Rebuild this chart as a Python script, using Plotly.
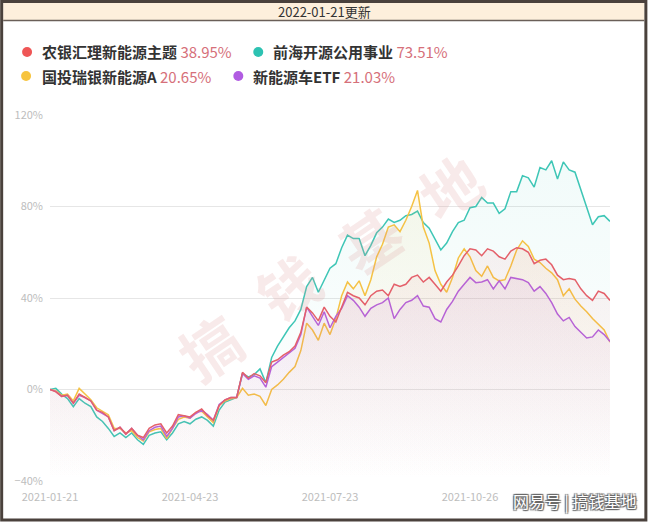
import plotly.graph_objects as go

# ---------------- data ----------------
tick_labels = ["2021-01-21", "2021-04-23", "2021-07-23", "2021-10-26", "2022-01-21"]

names = ["农银汇理新能源主题", "前海开源公用事业", "国投瑞银新能源A", "新能源车ETF"]
finals = ["38.95%", "73.51%", "20.65%", "21.03%"]

red = [0, -1, -3, -2.5, -6, -2, -3.5, -5, -9, -10, -12, -18, -16.5, -19.5, -17, -20, -21, -17, -15.5, -15,
       -19, -16, -11, -11.5, -12, -10, -8.5, -11.5, -13.5, -7, -4.5, -3.5, -3.5, 7.5, 5, 7, 6, 3, 12, 13,
       15, 16.5, 19, 25, 36, 33.5, 30, 36, 32, 29.5, 36, 42.5, 41, 40, 37, 41, 43, 43.5, 41, 46,
       45, 46, 49, 50, 47, 49, 46, 43, 47, 50, 54, 58.5, 61.5, 61, 58.5, 61.5, 60.5, 58, 57, 60.5,
       62, 61.5, 60, 55, 56.5, 57, 54.5, 50, 48, 48.5, 48, 44, 41, 39, 43, 42, 38.95]

teal = [0, 0.5, -2, -4, -7.5, -4, -6, -7.5, -12, -14, -17, -20.5, -19, -21, -19, -22, -24, -20, -19, -18.5,
        -22, -19, -15, -14, -15, -13, -12, -13.5, -16, -9, -5.5, -4.5, -3.5, 7, 5.5, 6.5, 9, 3, 14, 19,
        23, 27, 30, 35, 45, 49, 42.5, 48, 53, 55, 62, 67.5, 66, 66, 58.5, 63, 68.5, 71, 74.5, 73,
        74, 76, 76.5, 78, 73, 70.5, 66, 61, 64, 69, 73, 74, 79.5, 80, 84, 81.5, 81.5, 77, 79, 86.5,
        86.5, 93.5, 92.5, 88.5, 97, 96, 100, 92, 99.5, 96, 95, 87, 79, 72, 75.5, 76, 73.51]

yellow = [0, -0.5, -2.5, -2, -5, 0.5, -2, -4.5, -8, -9.5, -11, -17, -17, -19, -18, -21, -22.5, -18.5, -17.5, -17,
          -21.5, -17, -13, -12, -12.5, -10, -9.5, -12, -14.5, -7, -5, -4, -3.5, 0.5, -2.5, -2, -3, -7, 0, 2,
          4.5, 7.5, 10, 17, 29, 26, 21.5, 29, 24, 31, 41, 47, 44, 47.5, 41, 48, 58, 63.5, 71, 72,
          69, 74, 80, 87, 71, 64, 52, 46, 42.5, 49, 57.5, 61.5, 58, 52, 49.5, 54, 49, 47.5, 48, 54,
          61, 65, 62.5, 57, 55.5, 53, 51, 48, 41, 44, 39.5, 36.5, 34, 31, 28.5, 26, 20.65]

purple = [0, -0.8, -3, -2.5, -6, -2.5, -3.5, -5, -9, -10.5, -12, -18, -16.5, -19.5, -17, -20, -22, -18, -16.5, -16,
          -20.5, -17, -12, -11.5, -12.5, -10.5, -9, -11, -13.5, -6.5, -4.5, -3.5, -3.5, 7, 4.5, 6, 5, 1, 10, 12,
          14, 16, 18, 24, 36, 32, 28, 34, 27, 32, 35.5, 41, 39, 36, 32, 35.5, 37, 38, 40, 31,
          35, 38, 39, 41, 36.5, 36, 31, 29.5, 35, 38.5, 43, 46, 49, 46.7, 47, 48, 44, 47.5, 44, 49,
          48.5, 48, 46.7, 43, 45, 42, 38, 33, 30, 31.5, 27.5, 25, 22.5, 23, 26, 24, 21.03]

series = [teal, yellow, purple, red]
series_idx = [1, 2, 3, 0]
line_colors = ["#e4606a", "#3ec6b6", "#f5c244", "#b463dc"]
fill_rgb = ["228,96,106", "62,198,182", "245,194,68", "180,99,220"]
fill_alpha = [0.08, 0.07, 0.09, 0.09]
dot_colors = ["#ef5656", "#2dc2b2", "#f7c43e", "#b15ce2"]

y_min, y_max = -40, 120
N = len(red)
x = list(range(N))
tick_vals = [0, (N - 1) // 4, (N - 1) // 2, 3 * (N - 1) // 4, N - 1]

# ---------------- figure ----------------
W, H = 650, 522
L, R, T, B = 50, 38, 115, 41
PW, PH = W - L - R, H - T - B


def px(xp):
    return (xp - L) / PW


def py(yp):
    return (H - B - yp) / PH


fig = go.Figure()
for s, k in zip(series, series_idx):
    fig.add_trace(go.Scatter(x=x, y=[y_min] * N, mode="lines", line=dict(width=0),
                             hoverinfo="skip", showlegend=False))
    fig.add_trace(go.Scatter(
        x=x, y=s, mode="lines", name=names[k], showlegend=False,
        line=dict(color=line_colors[k], width=1.5),
        fill="tonexty",
        fillgradient=dict(type="vertical", start=y_min, stop=max(s),
                          colorscale=[[0, f"rgba({fill_rgb[k]},0.0)"],
                                      [1, f"rgba({fill_rgb[k]},{fill_alpha[k]})"]]),
    ))

shapes = []
# outer frame
shapes.append(dict(type="rect", xref="paper", yref="paper",
                   x0=px(1.5), x1=px(W - 2), y0=py(H - 2), y1=py(1.5),
                   line=dict(color="#4a413c", width=3), fillcolor="rgba(0,0,0,0)", layer="above"))
# title band
shapes.append(dict(type="rect", xref="paper", yref="paper",
                   x0=px(3), x1=px(W - 3.5), y0=py(20), y1=py(3),
                   line=dict(width=0), fillcolor="#fdefdc", layer="below"))
shapes.append(dict(type="line", xref="paper", yref="paper",
                   x0=px(3), x1=px(W - 3.5), y0=py(20.5), y1=py(20.5),
                   line=dict(color="#6a5f58", width=1.5)))

annotations = []
annotations.append(dict(xref="paper", yref="paper", x=px(W / 2), y=py(11.5), text="2022-01-21更新",
                        showarrow=False, xanchor="center", yanchor="middle",
                        font=dict(family="Noto Sans CJK SC", size=13, color="#333333")))

# legend entries: (dot x, text x, row y)
legend_pos = [(27, 40, 52), (259, 272, 52), (26, 40, 76), (239, 252, 76)]
for k, (dx, tx, ry) in enumerate(legend_pos):
    r = 5
    shapes.append(dict(type="circle", xref="paper", yref="paper",
                       x0=px(dx - r), x1=px(dx + r), y0=py(ry + r), y1=py(ry - r),
                       fillcolor=dot_colors[k], line=dict(width=0)))
    annotations.append(dict(
        xref="paper", yref="paper", x=px(tx), y=py(ry), showarrow=False,
        xanchor="left", yanchor="middle",
        text=f"<b>{names[k]}</b> <span style='color:#d6707a'>{finals[k]}</span>",
        font=dict(family="Noto Sans CJK SC", size=15, color="#333333")))

# diagonal watermark
for ch, (cx, cy) in zip("搞钱基地", [(210, 345), (288, 285), (370, 238), (450, 185)]):
    annotations.append(dict(xref="paper", yref="paper", x=px(cx), y=py(cy), text=f"<b>{ch}</b>",
                            showarrow=False, xanchor="center", yanchor="middle", textangle=-34,
                            font=dict(family="Noto Sans CJK SC", size=60, color="rgba(220,150,150,0.20)")))

# bottom-right watermark
annotations.append(dict(xref="paper", yref="paper", x=px(641), y=py(501), text="网易号 | 搞钱基地",
                        showarrow=False, xanchor="right", yanchor="middle",
                        font=dict(family="Noto Sans CJK SC", size=16, color="#ffffff",
                                  shadow="1px 1px 1px #666, -1px -1px 1px #666, 1px -1px 1px #666, -1px 1px 1px #666")))

fig.update_layout(
    width=W, height=H,
    margin=dict(l=L, r=R, t=T, b=B, pad=0),
    paper_bgcolor="#ffffff", plot_bgcolor="#ffffff",
    showlegend=False,
    shapes=shapes, annotations=annotations,
    xaxis=dict(range=[0, N - 1], tickmode="array", tickvals=tick_vals, ticktext=tick_labels,
               showgrid=False, zeroline=False, showline=False, ticks="",
               tickfont=dict(family="Noto Sans CJK SC", size=11, color="#bdbdbd"),
               ticklabelstandoff=8, fixedrange=True),
    yaxis=dict(range=[y_min, y_max], dtick=40, tick0=0, ticksuffix="%",
               showgrid=True, gridcolor="#e6e6e6", gridwidth=1, zeroline=False, showline=False,
               ticks="", tickfont=dict(family="Noto Sans CJK SC", size=11, color="#bdbdbd"),
               ticklabelstandoff=6, fixedrange=True),
)

fig.write_html("out.html", config={"displayModeBar": False},
               post_script="document.body.style.margin='0';document.body.style.padding='0';"
                           "document.body.style.overflow='hidden';")
